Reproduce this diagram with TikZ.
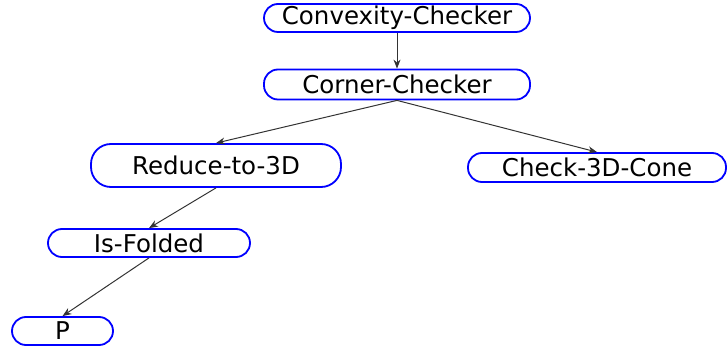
\documentclass[tikz,border=0pt]{standalone}
\usepackage{fontspec}
\setmainfont{DejaVu Sans}
\usetikzlibrary{arrows.meta}
\begin{document}
\begin{tikzpicture}[x=1pt,y=-1pt,
  box/.style={draw=blue,line width=1.8pt,fill=white,rounded corners=14pt,minimum height=28pt,inner sep=0pt,font=\fontsize{24.5}{28}\selectfont},
  conn/.style={draw=black!80,line width=1pt,-{Stealth[length=9pt,width=7pt]}}]
\useasboundingbox (0,0) rectangle (727,352);
\node[box,minimum width=266pt] (cc) at (397,18) {Convexity-Checker};
\node[box,minimum width=266pt,minimum height=30pt] (co) at (397,84.5) {Corner-Checker};
\node[box,minimum width=250pt,minimum height=43pt,rounded corners=20pt] (rd) at (216,165.5) {Reduce-to-3D};
\node[box,minimum width=258pt,minimum height=29pt] (ch) at (597,167.5) {Check-3D-Cone};
\node[box,minimum width=202pt] (if) at (149,243) {Is-Folded};
\node[box,minimum width=101pt] (p) at (62.5,331) {P};
\draw[conn] (cc.south) -- (co.north);
\draw[conn] (co.south) -- (rd.north);
\draw[conn] (co.south) -- (ch.north);
\draw[conn] (rd.south) -- (if.north);
\draw[conn] (if.south) -- (p.north);
\end{tikzpicture}
\end{document}
